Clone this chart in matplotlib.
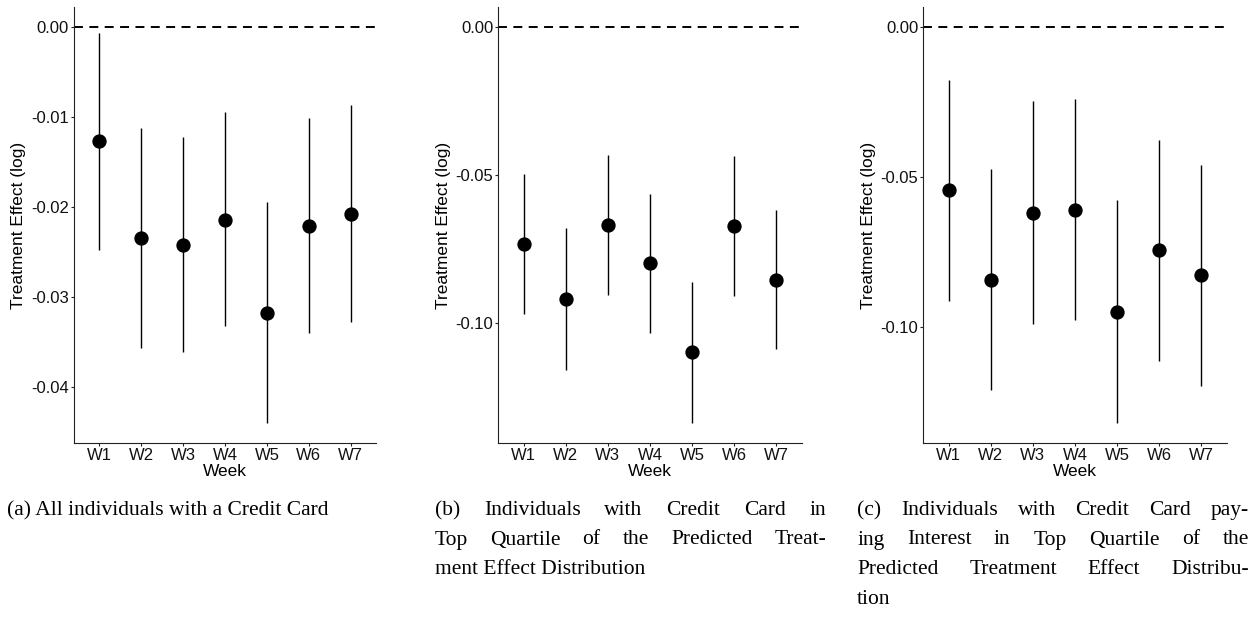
import numpy as np
import matplotlib
matplotlib.use("Agg")
import matplotlib.pyplot as plt
from matplotlib.ticker import FormatStrFormatter

# data (log treatment effect, 95% CI)
weeks = ["W1", "W2", "W3", "W4", "W5", "W6", "W7"]

a_est = [-0.0127, -0.0234, -0.0242, -0.0214, -0.0318, -0.0221, -0.0208]
a_lo = [-0.0248, -0.0356, -0.0361, -0.0332, -0.0440, -0.0340, -0.0328]
a_hi = [-0.0007, -0.0112, -0.0122, -0.0095, -0.0195, -0.0101, -0.0087]

b_est = [-0.0733, -0.0919, -0.0671, -0.0799, -0.1099, -0.0673, -0.0855]
b_lo = [-0.0972, -0.1159, -0.0908, -0.1035, -0.1340, -0.0910, -0.1090]
b_hi = [-0.0496, -0.0680, -0.0434, -0.0564, -0.0863, -0.0436, -0.0620]

c_est = [-0.0544, -0.0842, -0.0619, -0.0609, -0.0950, -0.0744, -0.0828]
c_lo = [-0.0913, -0.1211, -0.0991, -0.0978, -0.1320, -0.1114, -0.1197]
c_hi = [-0.0178, -0.0474, -0.0247, -0.0241, -0.0578, -0.0378, -0.0459]

a_ticks = [0.0, -0.01, -0.02, -0.03, -0.04]
bc_ticks = [0.0, -0.05, -0.10]

cap_a = ["(a) All individuals with a Credit Card"]
cap_b = ["(b) Individuals with Credit Card in",
         "Top Quartile of the Predicted Treat-",
         "ment Effect Distribution"]
cap_c = ["(c) Individuals with Credit Card pay-",
         "ing Interest in Top Quartile of the",
         "Predicted Treatment Effect Distribu-",
         "tion"]

W, H = 1256, 618
plt.rcParams['font.family'] = ['Liberation Sans', 'DejaVu Sans']
fig = plt.figure(figsize=(W / 100, H / 100), dpi=100)

panels = [
    (74.0, 302.0, a_est, a_lo, a_hi, a_ticks, 19.0),
    (498.3, 303.4, b_est, b_lo, b_hi, bc_ticks, 444.0),
    (923.3, 303.4, c_est, c_lo, c_hi, bc_ticks, 869.0),
]
top_px, bot_px = 7.0, 443.0
axis_col = "#222222"

for left, width, est, lo, hi, ticks, ylab_x in panels:
    ax = fig.add_axes([left / W, 1 - bot_px / H, width / W, (bot_px - top_px) / H])
    x = np.arange(1, len(weeks) + 1)
    est = np.array(est)
    lo = np.array(lo)
    hi = np.array(hi)

    ax.axhline(0, color="black", lw=1.4, linestyle=(0, (4.6, 3.3)), zorder=1)
    ax.vlines(x, lo, hi, color="black", lw=1.0, zorder=2)
    ax.plot(x, est, "o", color="black", markersize=9.3, zorder=3)

    # ggplot-like 5% expansion around data incl. the zero line
    ymin = min(lo.min(), 0)
    ymax = max(hi.max(), 0)
    pad = 0.05 * (ymax - ymin)
    ax.set_ylim(ymin - pad, ymax + pad)
    ax.set_xlim(0.4, len(weeks) + 0.6)

    ax.set_xticks(x)
    ax.set_xticklabels(weeks)
    ax.set_yticks(ticks)
    ax.yaxis.set_major_formatter(FormatStrFormatter("%.2f"))

    for s in ["top", "right"]:
        ax.spines[s].set_visible(False)
    for s in ["left", "bottom"]:
        ax.spines[s].set_color(axis_col)
        ax.spines[s].set_linewidth(0.8)
    ax.tick_params(length=2.2, width=0.8, color=axis_col, labelsize=12,
                   labelcolor="#111111", pad=1.5)

    ax.set_xlabel("Week", fontsize=12.5, va="center")
    ax.xaxis.set_label_coords((left + width / 2) / W, 1 - 472 / H,
                              transform=fig.transFigure)
    ax.set_ylabel("Treatment Effect (log)", fontsize=12.5, va="center")
    ax.yaxis.set_label_coords(ylab_x / W, 1 - 225 / H, transform=fig.transFigure)

# captions, justified like the LaTeX subcaptions
renderer = fig.canvas.get_renderer()
cap_font = dict(family=["Liberation Serif", "DejaVu Serif"], fontsize=15.5)
line_gap = 29.5
first_base = 515.0


def caption(lines, x0, x1):
    for i, line in enumerate(lines):
        yb = 1 - (first_base + i * line_gap) / H
        words = line.split()
        if i == len(lines) - 1 or len(words) == 1:
            fig.text(x0 / W, yb, line, ha="left", va="baseline", **cap_font)
            continue
        texts = [fig.text(0, yb, w, ha="left", va="baseline", **cap_font) for w in words]
        widths = [t.get_window_extent(renderer).width for t in texts]
        gap = (x1 - x0 - sum(widths)) / (len(words) - 1)
        cx = x0
        for t, w in zip(texts, widths):
            t.set_x(cx / W)
            cx += w + gap


caption(cap_a, 7, 401)
caption(cap_b, 435, 826)
caption(cap_c, 857, 1249)

fig.savefig("out.png", dpi=100)
